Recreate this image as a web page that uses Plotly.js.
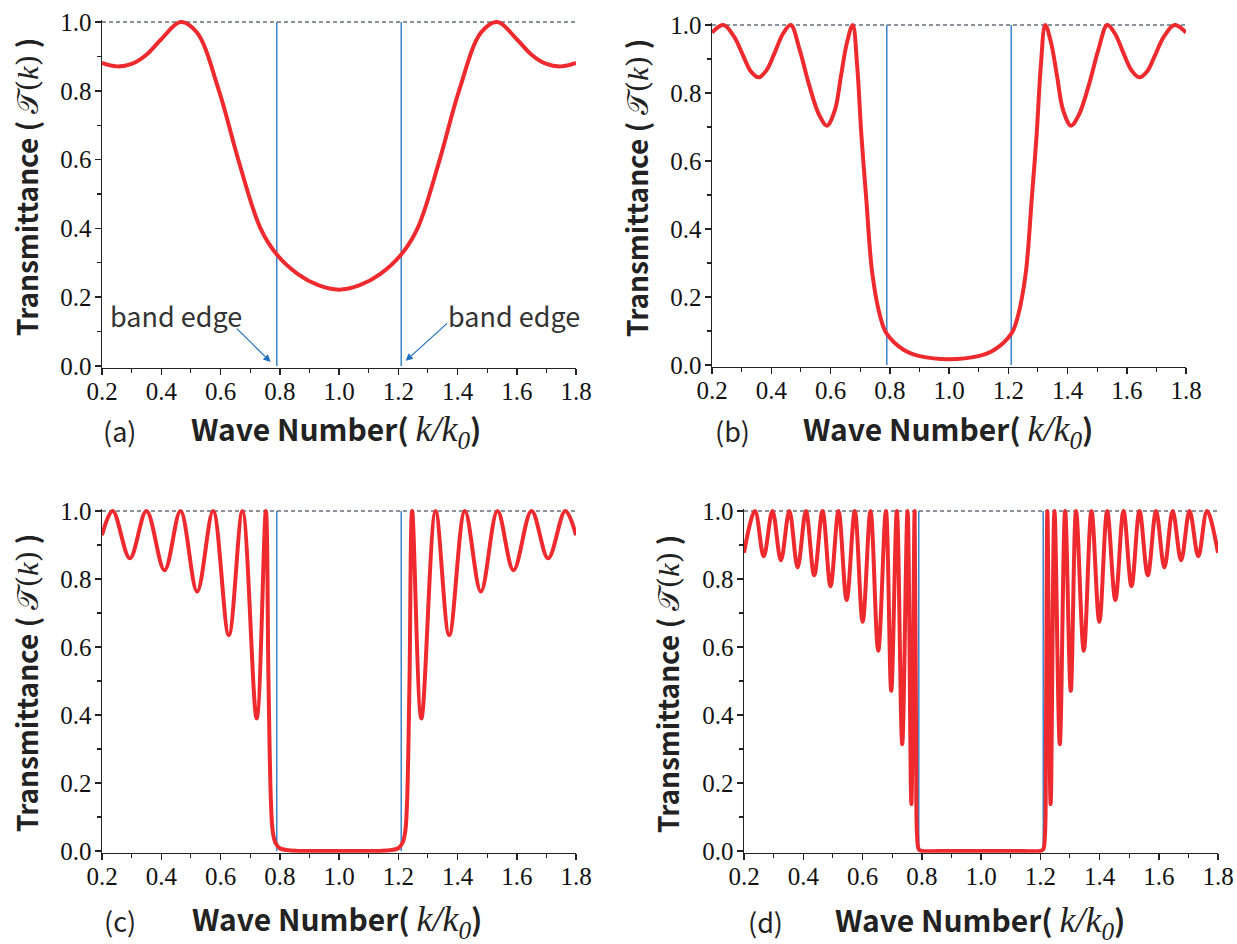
<!DOCTYPE html>
<html><head><meta charset="utf-8">
<script src="https://cdn.plot.ly/plotly-3.0.1.min.js"></script>
<style>html,body{margin:0;padding:0;background:#fff}</style>
</head><body><div id="chart" style="width:1237px;height:944px"></div>
<script>
// ---- data ----
const xTickVals = [0.2, 0.4, 0.6, 0.8, 1.0, 1.2, 1.4, 1.6, 1.8];
const xTickText = ['0.2','0.4','0.6','0.8','1.0','1.2','1.4','1.6','1.8'];
const yTickVals = [0.0, 0.2, 0.4, 0.6, 0.8, 1.0];
const yTickText = ['0.0','0.2','0.4','0.6','0.8','1.0'];
const bandEdges = [0.79, 1.21];
const unityLevel = 1.0;
const kLimits = [0.2, 1.8];
const panelLabels = ['(a)', '(b)', '(c)', '(d)'];
const bandEdgeLabel = 'band edge';

const kA = [0.20,0.25,0.30,0.35,0.40,0.465,0.52,0.595,0.66,0.735,0.79,0.86,0.93,1.00,1.07,1.14,1.21,1.265,1.34,1.405,1.48,1.535,1.60,1.65,1.70,1.75,1.80];
const tA = [0.881,0.871,0.878,0.905,0.950,1.000,0.970,0.800,0.600,0.400,0.324,0.268,0.235,0.222,0.235,0.268,0.324,0.400,0.600,0.800,0.970,1.000,0.950,0.905,0.878,0.871,0.881];

const kB = [0.200,0.239,0.275,0.305,0.330,0.358,0.385,0.410,0.440,0.466,0.495,0.529,0.562,0.588,0.615,0.635,0.655,0.675,0.690,0.704,0.721,0.741,0.768,0.789,0.848,0.901,1.000,1.099,1.152,1.211,1.232,1.259,1.279,1.296,1.310,1.325,1.345,1.365,1.385,1.412,1.438,1.471,1.505,1.534,1.560,1.590,1.615,1.642,1.670,1.695,1.725,1.761,1.800];
const tB = [0.978,1.000,0.965,0.910,0.865,0.846,0.868,0.915,0.975,1.000,0.930,0.820,0.735,0.704,0.750,0.848,0.946,1.000,0.880,0.680,0.485,0.270,0.142,0.093,0.044,0.026,0.017,0.026,0.044,0.093,0.142,0.270,0.485,0.680,0.880,1.000,0.946,0.848,0.750,0.704,0.735,0.820,0.930,1.000,0.975,0.915,0.868,0.846,0.865,0.910,0.965,1.000,0.978];

const kC = [0.200,0.236,0.294,0.350,0.411,0.465,0.521,0.575,0.628,0.674,0.722,0.753,0.762,0.770,0.776,0.785,0.800,0.830,0.870,0.930,1.000,1.070,1.130,1.170,1.200,1.215,1.224,1.230,1.238,1.247,1.278,1.326,1.372,1.425,1.479,1.535,1.589,1.650,1.706,1.764,1.800];
const tC = [0.929,1.000,0.861,1.000,0.826,1.000,0.763,1.000,0.635,1.000,0.390,1.000,0.500,0.150,0.060,0.025,0.008,0.002,0.000,0.000,0.000,0.000,0.000,0.002,0.008,0.025,0.060,0.150,0.500,1.000,0.390,1.000,0.635,1.000,0.763,1.000,0.826,1.000,0.861,1.000,0.929];

const kD = [0.200,0.237,0.2665,0.296,0.3245,0.353,0.381,0.409,0.437,0.465,0.492,0.519,0.5465,0.574,0.6005,0.627,0.653,0.679,0.697,0.716,0.734,0.752,0.765,0.776,0.781,0.784,0.790,0.800,0.860,0.930,1.000,1.070,1.140,1.200,1.210,1.216,1.219,1.224,1.235,1.248,1.266,1.284,1.303,1.321,1.347,1.373,1.3995,1.426,1.4535,1.481,1.508,1.535,1.563,1.591,1.619,1.647,1.6755,1.704,1.7335,1.763,1.800];
const tD = [0.877,1.000,0.867,1.000,0.855,1.000,0.834,1.000,0.811,1.000,0.779,1.000,0.738,1.000,0.674,1.000,0.589,1.000,0.471,1.000,0.314,1.000,0.138,1.000,0.300,0.050,0.005,0.000,0.000,0.000,0.000,0.000,0.000,0.000,0.005,0.050,0.300,1.000,0.138,1.000,0.314,1.000,0.471,1.000,0.589,1.000,0.674,1.000,0.738,1.000,0.779,1.000,0.811,1.000,0.834,1.000,0.855,1.000,0.867,1.000,0.877];

// ---- styling / layout ----
const RED = '#ee2a2e', BLUE = '#2b7cc6', GRAY = '#8a929b', AX = '#222';
const W = 1237, H = 944;
const series = [[kA,tA],[kB,tB],[kC,tC],[kD,tD]];
// pixel frames: [left, right, y(1.0), y(0.0)]
const frames = [[102,576,22,366],[712,1186,25,365],[102,576,511,851],[744,1218,511,851]];
const yR = [-0.005, 1.006];
const serif = 'Liberation Serif';

const traces = [];
const layout = {width:W, height:H, margin:{l:0,r:0,t:0,b:0}, paper_bgcolor:'#fff', plot_bgcolor:'rgba(0,0,0,0)', showlegend:false, annotations:[]};

series.forEach((s, i) => {
  const n = i === 0 ? '' : String(i+1);
  const xa = 'x'+n, ya = 'y'+n;
  const [l, r, yTop, yBot] = frames[i];
  const unit = yBot - yTop;
  const top = yTop - (yR[1]-1)*unit, bot = yBot - yR[0]*unit;
  const common = {showgrid:false, zeroline:false, showline:true, linecolor:AX, linewidth:1.5,
    ticks:'outside', ticklen:6, tickwidth:1.5, tickcolor:AX, fixedrange:true};
  layout['xaxis'+n] = Object.assign({}, common, {domain:[l/W, r/W], anchor:ya, range:kLimits,
    tickmode:'array', tickvals:xTickVals, ticktext:xTickText, ticklabelstandoff:-5,
    tickfont:{family:serif, size:25, color:'#111'},
    minor:{tickmode:'linear', tick0:0.1, dtick:0.2, ticks:'outside', ticklen:4, tickwidth:1.2, tickcolor:AX, showgrid:false}});
  layout['yaxis'+n] = Object.assign({}, common, {domain:[1-bot/H, 1-top/H], anchor:xa, range:yR,
    tickmode:'array', tickvals:yTickVals, ticktext:yTickText, ticklabelstandoff:-2,
    tickfont:{family:serif, size:25, color:'#111'},
    minor:{tickmode:'linear', tick0:0.1, dtick:0.2, ticks:'outside', ticklen:4, tickwidth:1.2, tickcolor:AX, showgrid:false}});

  traces.push({x:kLimits, y:[unityLevel, unityLevel], xaxis:xa, yaxis:ya, mode:'lines',
    line:{color:GRAY, width:2, dash:'4px,3px'}, hoverinfo:'skip'});
  traces.push({x:[bandEdges[0],bandEdges[0],null,bandEdges[1],bandEdges[1]], y:[0,unityLevel,null,0,unityLevel],
    xaxis:xa, yaxis:ya, mode:'lines', line:{color:BLUE, width:1.4}, hoverinfo:'skip'});
  traces.push({x:s[0], y:s[1], xaxis:xa, yaxis:ya, mode:'lines',
    line:{color:RED, width:4, shape:'spline', smoothing:1}});
});

const titleFont = 'Noto Sans CJK JP';
const xTitle = '<b>Wave Number(</b> <span style="font-family:\'Liberation Serif\';font-size:36px;font-style:italic;font-weight:normal">k/k<sub>0</sub></span><b>)</b>';
const yTitle = '<b>Transmittance ( </b><span style="font-family:\'DejaVu Serif\';font-size:30px">𝒯(<span style="font-family:\'Liberation Serif\';font-style:italic">k</span>)</span><b> )</b>';
const labelPos = [[120,430],[732,430],[120,920],[765,921]];
const xTitlePos = [[336,430],[948,430],[337,920],[980,921]];
const yTitlePos = [[26,187],[636,188],[26,683],[667,684]];
for (let i=0;i<4;i++){
  layout.annotations.push({xref:'paper', yref:'paper', x:labelPos[i][0]/W, y:1-labelPos[i][1]/H, text:panelLabels[i],
    showarrow:false, xanchor:'center', yanchor:'middle', font:{family:titleFont, size:27, color:'#222'}});
  layout.annotations.push({xref:'paper', yref:'paper', x:xTitlePos[i][0]/W, y:1-xTitlePos[i][1]/H, text:xTitle,
    showarrow:false, xanchor:'center', yanchor:'middle', font:{family:titleFont, size:30, color:'#222'}});
  layout.annotations.push({xref:'paper', yref:'paper', x:yTitlePos[i][0]/W, y:1-yTitlePos[i][1]/H, text:yTitle, textangle:-90,
    showarrow:false, xanchor:'center', yanchor:'middle', font:{family:titleFont, size:28, color:'#222'}});
}
layout.annotations.push({xref:'x', yref:'y', x:0.45, y:0.148, text:bandEdgeLabel, showarrow:false,
  xanchor:'center', yanchor:'middle', font:{family:titleFont, size:27, color:'#333'}});
layout.annotations.push({xref:'x', yref:'y', x:1.591, y:0.148, text:bandEdgeLabel, showarrow:false,
  xanchor:'center', yanchor:'middle', font:{family:titleFont, size:27, color:'#333'}});
layout.annotations.push({xref:'x', yref:'y', axref:'x', ayref:'y', x:0.769, y:0.012, ax:0.650, ay:0.113, text:'',
  showarrow:true, arrowhead:2, arrowsize:1.2, arrowwidth:1.2, arrowcolor:'#1f6fbf'});
layout.annotations.push({xref:'x', yref:'y', axref:'x', ayref:'y', x:1.225, y:0.015, ax:1.370, ay:0.128, text:'',
  showarrow:true, arrowhead:2, arrowsize:1.2, arrowwidth:1.2, arrowcolor:'#1f6fbf'});

Plotly.newPlot('chart', traces, layout, {displayModeBar:false, staticPlot:true});
</script></body></html>
